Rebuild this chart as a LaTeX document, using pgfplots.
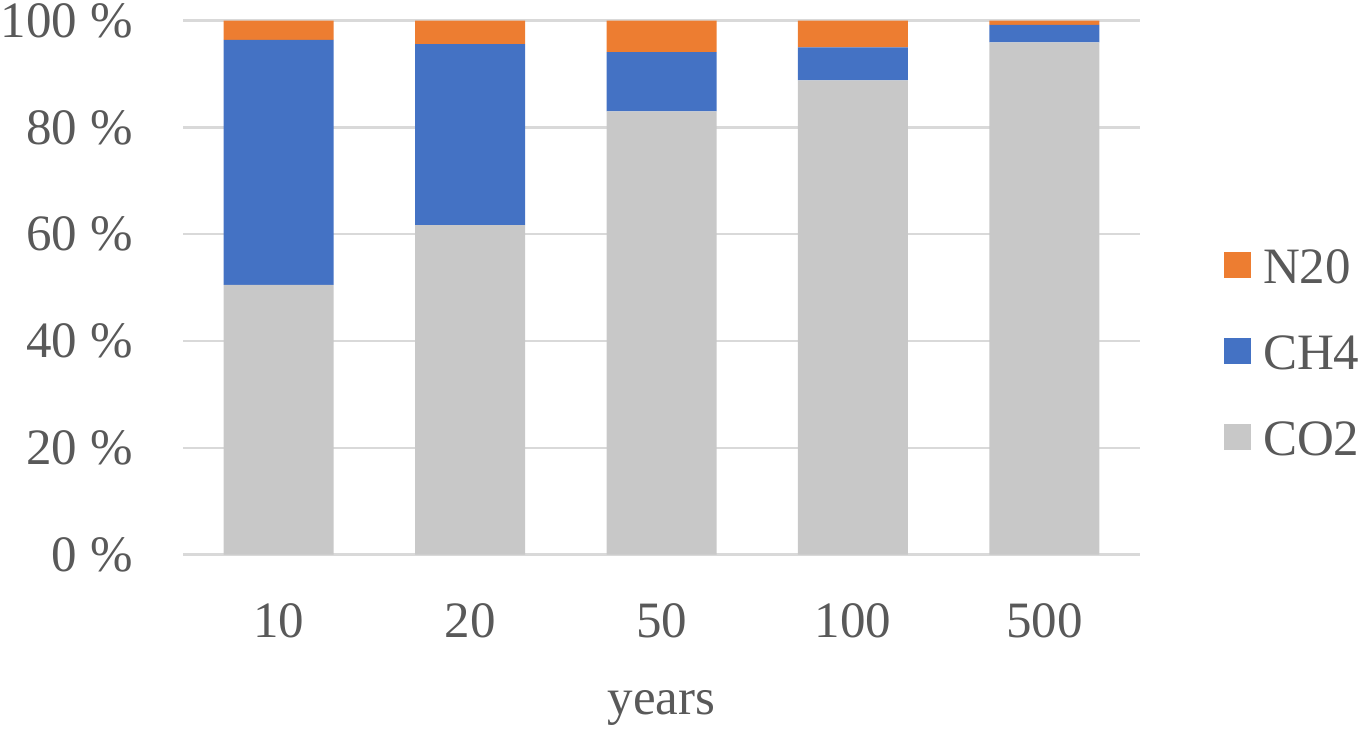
\documentclass[border=0pt]{standalone}
\usepackage{fontspec}
\setmainfont{Liberation Serif}
\usepackage{pgfplots}
\pgfplotsset{compat=1.18}
\definecolor{cotwo}{HTML}{C8C8C8}
\definecolor{chfour}{HTML}{4472C4}
\definecolor{ntwoo}{HTML}{ED7D31}
\definecolor{gridgray}{HTML}{D9D9D9}
\definecolor{txtgray}{HTML}{595959}

\begin{document}
\begin{tikzpicture}
\useasboundingbox (0,0) rectangle (684pt,364pt);
\begin{axis}[
    at={(91.5pt,86.7pt)}, anchor=south west,
    scale only axis,
    width=478.5pt, height=267pt,
    ybar stacked, bar width=55pt,
    xmin=-0.5, xmax=4.5,
    ymin=0, ymax=100,
    xtick={0,1,2,3,4},
    xticklabels={10,20,50,100,500},
    ytick={0,20,40,60,80,100},
    yticklabels={0 \%,20 \%,40 \%,60 \%,80 \%,100 \%},
    ymajorgrids,
    major grid style={gridgray, line width=1.15pt},
    axis line style={draw=none},
    major tick length=0pt,
    tick style={draw=none},
    font=\fontsize{25.5}{30}\selectfont\color{txtgray},
    xticklabel style={anchor=base, inner sep=0pt, yshift=-41.2pt},
    yticklabel style={anchor=east, inner sep=0pt, xshift=-25pt},
    xlabel={years},
    xlabel style={at={(axis description cs:0.5,0)}, anchor=base, inner sep=0pt, yshift=-80pt},
    reverse legend,
    legend style={at={(axis description cs:1.0878,0.3783)}, anchor=west,
        draw=none, fill=none, inner sep=0pt, outer sep=0pt,
        row sep=26pt, column sep=6pt,
        nodes={inner sep=0pt, text height=17pt, text depth=0pt},
        font=\fontsize{25.5}{30}\selectfont\color{txtgray}},
    legend cell align=left,
    legend image code/.code={\fill[#1] (0pt,-5.5pt) rectangle (13.5pt,7.5pt);},
]
\addplot[fill=cotwo, draw=none] coordinates {(0,50.5) (1,61.7) (2,83.0) (3,88.8) (4,95.9)};
\addplot[fill=chfour, draw=none] coordinates {(0,45.9) (1,33.9) (2,11.1) (3,6.2) (4,3.3)};
\addplot[fill=ntwoo, draw=none] coordinates {(0,3.6) (1,4.4) (2,5.9) (3,5.0) (4,0.8)};
\legend{CO2, CH4, N20}
\end{axis}
\end{tikzpicture}
\end{document}
